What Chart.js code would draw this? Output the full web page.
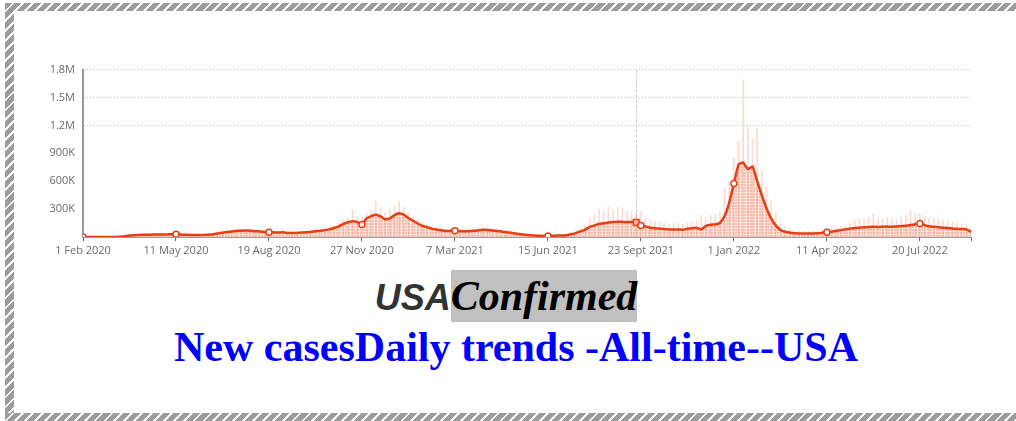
<!DOCTYPE html>
<html><head><meta charset="utf-8">
<script src="https://cdn.jsdelivr.net/npm/chart.js@4.4.1/dist/chart.umd.min.js"></script>
<style>
html,body{margin:0;padding:0;background:#fff;width:1016px;height:421px;overflow:hidden;position:relative;}
.hb{position:absolute;background:repeating-linear-gradient(135deg,#9c9c9c 0 5px,#fff 5px 7px);}
#chartBox{position:absolute;left:30px;top:55px;width:950px;height:204px;}
.t{position:absolute;width:1016px;text-align:center;white-space:nowrap;}
#t1{left:-2px;top:272px;line-height:52px;font:bold italic 42px "Liberation Serif",serif;}
#t1 .a{font:bold italic 36px "Liberation Sans",Arial,sans-serif;color:#333;}
#t1 .b{background:#c0c0c0;color:#000;padding:3px 0;}
#t2{left:8px;top:323px;line-height:50px;font:bold 42px "Liberation Serif",serif;color:#0000ff;}
</style></head>
<body>
<div class="hb" style="left:5px;top:3px;width:1011px;height:8px"></div>
<div class="hb" style="left:5px;top:3px;width:9px;height:418px"></div>
<div class="hb" style="left:5px;top:413px;width:1011px;height:8px"></div>
<div id="chartBox"><canvas id="c"></canvas></div>
<div class="t" id="t1"><span class="a">USA</span><span class="b">Confirmed</span></div>
<div class="t" id="t2">New casesDaily trends -All-time--USA</div>
<script>
// one value every 5 days starting 1 Feb 2020 (thousands of cases)
const STEP_DAYS = 5;
const END_DAY = 955;
const HOVER_DAY = 595;
const tickDays = [0,100,200,300,400,500,600,700,800,900];
const tickLabels = ['1 Feb 2020','11 May 2020','19 Aug 2020','27 Nov 2020','7 Mar 2021','15 Jun 2021','23 Sept 2021','1 Jan 2022','11 Apr 2022','20 Jul 2022'];
const yTickValues = [0,300000,600000,900000,1200000,1500000,1800000];

// 7-day average (thousands)
const avgCases = [
0,0,0,0,0,0,0.5,1,3,8,
15,19,22,24,25,26,26,27,28,29,
30,27,24,22,21,21,22,25,30,38,
46,54,60,65,68,69,67,63,59,55,
52,50,48,50,44,42,44,48,50,55,
62,67,74,82,97,115,140,158,170,160,
135,200,225,240,222,190,200,235,255,240,
205,175,145,120,105,90,80,72,65,66,
66,63,62,63,66,72,78,76,70,65,
58,52,45,38,30,25,20,16,13,12,
12,13,15,16,20,30,42,60,80,110,
125,140,148,155,160,165,163,160,162,158,
125,112,100,95,90,85,82,80,80,78,
88,95,98,82,120,132,135,150,225,370,
575,780,800,730,760,600,450,310,200,125,
75,56,48,40,38,37,37,38,40,45,
50,57,65,74,82,90,97,100,104,108,
110,108,110,112,110,114,118,120,128,138,
145,128,115,110,105,100,97,92,88,86,
82,55
];
// daily highs inside each 5-day window (thousands)
const dailyPeaks = [
0,0,0,0,0,0,1,2,6,14,
22,28,34,35,36,38,37,39,37,36,
35,33,30,28,30,27,28,33,40,48,
55,65,75,78,80,82,78,72,68,64,
60,58,56,70,52,55,60,65,62,70,
75,82,90,105,125,150,185,200,300,220,
210,250,290,380,320,260,290,330,380,320,
260,220,180,160,135,115,100,92,85,90,
95,88,85,90,95,100,105,100,95,90,
82,75,65,55,45,38,32,28,24,22,
22,24,26,28,35,50,70,95,130,200,
240,300,280,320,290,320,310,280,270,260,
270,200,180,170,160,150,140,150,145,140,
150,160,175,230,200,230,240,260,530,600,
850,1030,1690,1190,1050,1170,710,540,390,250,
140,100,85,70,65,60,58,60,65,70,
75,90,100,115,130,150,180,200,190,210,
250,200,190,210,200,190,220,230,286,240,
250,220,210,200,190,180,170,160,150,140,
130,90
];

const LINE = '#e63f14';
const avgPts = avgCases.map((v,i)=>({x:i*STEP_DAYS,y:v*1000}));
const peakPts = dailyPeaks.map((v,i)=>({x:i*STEP_DAYS,y:v*1000}));

function makePattern(){
  const p=document.createElement('canvas');p.width=3;p.height=3;
  const g=p.getContext('2d');
  g.fillStyle='rgba(244,150,125,0.6)';g.fillRect(0,0,3,3);
  g.fillStyle='rgba(255,235,228,0.9)';g.fillRect(2,0,1,3);g.fillRect(0,2,3,1);
  return g.createPattern(p,'repeat');
}
const fillPattern = makePattern();

const crosshair = {
  id:'crosshair',
  beforeDatasetsDraw(chart){
    const {ctx,chartArea,scales} = chart;
    const x = Math.round(scales.x.getPixelForValue(HOVER_DAY))+0.5;
    ctx.save();ctx.strokeStyle='#c8c8c8';ctx.lineWidth=1;ctx.setLineDash([3,2]);
    ctx.beginPath();ctx.moveTo(x,chartArea.top);ctx.lineTo(x,chartArea.bottom);ctx.stroke();
    ctx.restore();
  }
};

const fmtY = v => v===0 ? '' : (v>=1e6 ? (v/1e6).toFixed(1)+'M' : (v/1e3)+'K');

new Chart(document.getElementById('c'),{
  type:'bar',
  data:{datasets:[
    {type:'line',data:avgPts,borderWidth:2.5,borderColor:LINE,fill:false,tension:0.12,order:1,
     pointRadius:ctx=>{const d=ctx.raw&&ctx.raw.x; if(d===HOVER_DAY) return 4; return tickDays.includes(d)?3:0;},
     pointStyle:ctx=>ctx.raw&&ctx.raw.x===HOVER_DAY?'rect':'circle',
     pointBackgroundColor:ctx=>ctx.raw&&ctx.raw.x===HOVER_DAY?'#f9c2ae':'#ffffff',
     pointBorderColor:LINE,pointBorderWidth:1.5},
    {type:'bar',data:peakPts,backgroundColor:'rgba(244,140,115,0.32)',barThickness:1,grouped:false,order:2},
    {type:'line',data:avgPts,borderWidth:0,pointRadius:0,fill:'origin',backgroundColor:fillPattern,tension:0.12,order:3}
  ]},
  options:{
    responsive:true,maintainAspectRatio:false,animation:false,events:[],
    layout:{padding:{top:12,right:9,bottom:0,left:0}},
    plugins:{legend:{display:false},tooltip:{enabled:false}},
    scales:{
      x:{type:'linear',min:0,max:END_DAY,offset:false,
         afterBuildTicks:s=>{s.ticks=tickDays.concat([END_DAY]).map(v=>({value:v}));},
         ticks:{autoSkip:false,maxRotation:0,padding:3,color:'#6a6a6a',font:{family:'"Open Sans"',size:11},
                callback:(v,i)=>tickLabels[i]||''},
         grid:{offset:false,drawOnChartArea:false,drawTicks:true,tickLength:4,tickColor:'#666'},
         border:{display:true,color:'#9a9a9a',width:1},
         afterFit:s=>{s.height=22;}},
      y:{min:0,max:1800000,
         afterBuildTicks:s=>{s.ticks=yTickValues.map(v=>({value:v}));},
         ticks:{padding:8,color:'#6a6a6a',font:{family:'"Open Sans"',size:11},callback:v=>fmtY(v)},
         grid:{drawTicks:false,color:c=>c.tick&&c.tick.value>=1200000?'#c4c4c4':'rgba(0,0,0,0)',lineWidth:1},
         border:{display:true,color:'#9a9a9a',width:2,dash:[1,2]},
         afterFit:s=>{s.width=53;}}
    }
  },
  plugins:[crosshair]
});
</script>
</body></html>
